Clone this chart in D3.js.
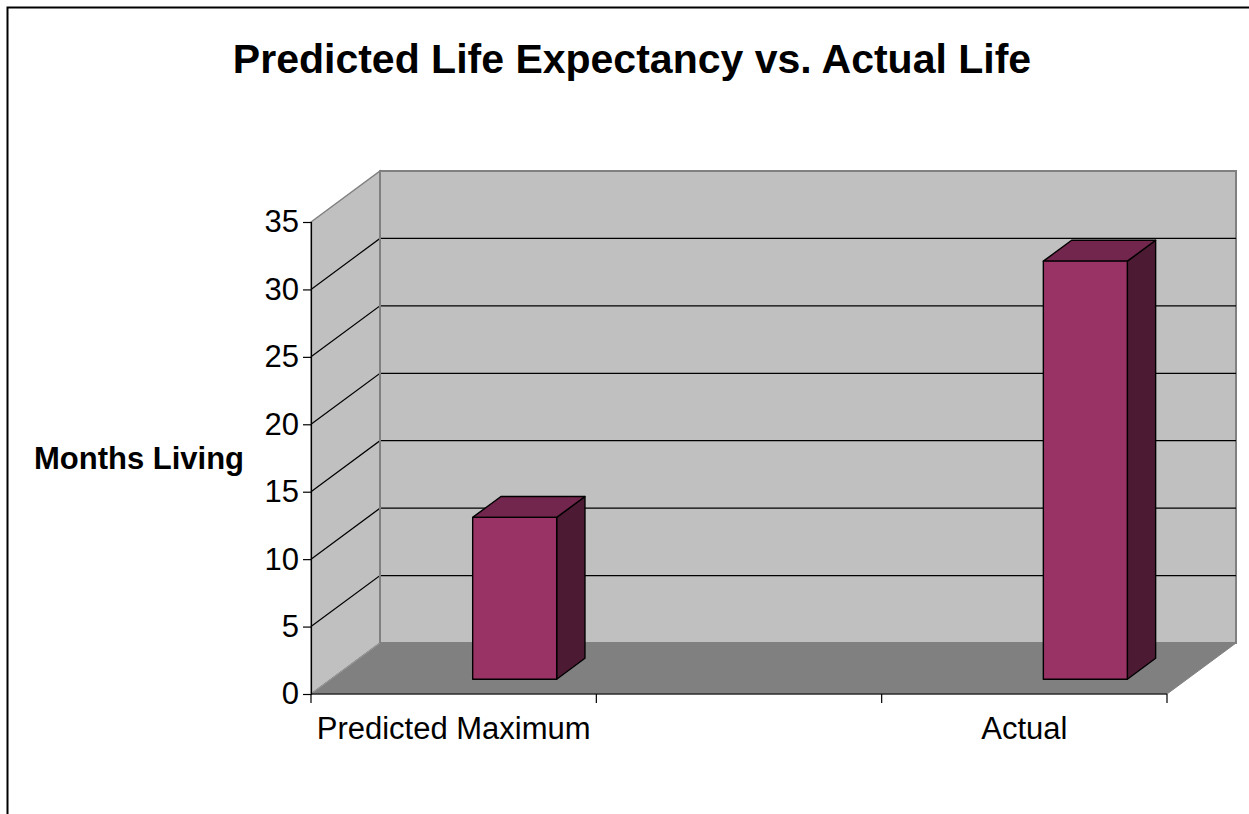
<!DOCTYPE html>
<html><head><meta charset="utf-8">
<script src="https://cdn.jsdelivr.net/npm/d3@7"></script>
<style>html,body{margin:0;padding:0;background:#fff;}svg{display:block;}</style>
</head><body>
<svg id="chart" width="1249" height="814"></svg>
<script>
// ---- data ----
const title = "Predicted Life Expectancy vs. Actual Life";
const yAxisTitle = "Months Living";
const categories = ["Predicted Maximum", "", "Actual"];
const values = [12, null, 31];
const yTicks = [0, 5, 10, 15, 20, 25, 30, 35];

// ---- layout ----
const W = 1249, H = 814;
const font = "'Liberation Sans', Arial, sans-serif";
const x0 = 311, x1 = 1167, yBase = 694, yTop = 222;
const depthX = 69, depthY = 51;
const zFront = 0.29, zBack = 0.70;
const barW = 84, barShift = 41;

const svg = d3.select("#chart");
const x = d3.scaleBand().domain(categories).range([x0, x1]).padding(0);
const y = d3.scaleLinear().domain([0, 35]).range([yBase, yTop]);
const P = (px, py, z) => [px + z * depthX, py - z * depthY];

// frame border
svg.append("rect").attr("x", 7.5).attr("y", 7.5).attr("width", W + 20).attr("height", H + 20)
  .attr("fill", "none").attr("stroke", "#000").attr("stroke-width", 2);

// back wall
const bw = [P(x0, y(35), 1), P(x1, y(35), 1), P(x1, y(0), 1), P(x0, y(0), 1)];
svg.append("polygon").attr("points", bw.join(" ")).attr("fill", "#C0C0C0")
  .attr("stroke", "#808080").attr("stroke-width", 2);
// side wall
const sw = [P(x0, y(35), 0), P(x0, y(35), 1), P(x0, y(0), 1), P(x0, y(0), 0)];
svg.append("polygon").attr("points", sw.join(" ")).attr("fill", "#C0C0C0")
  .attr("stroke", "#808080").attr("stroke-width", 1.5);
// floor
const fl = [P(x0, y(0), 0), P(x1, y(0), 0), P(x1, y(0), 1), P(x0, y(0), 1)];
svg.append("polygon").attr("points", fl.join(" ")).attr("fill", "#808080")
  .attr("stroke", "#808080").attr("stroke-width", 1);
// floor/side wall seam
svg.append("line").attr("x1", P(x0, y(0), 0)[0]).attr("y1", P(x0, y(0), 0)[1])
  .attr("x2", P(x0, y(0), 1)[0]).attr("y2", P(x0, y(0), 1)[1]).attr("stroke", "#9a9a9a");

// gridlines (side + back)
const grid = yTicks.filter(t => t > 0 && t < 35);
const g = svg.append("g");
grid.forEach(t => {
  const a = P(x0, y(t), 0), b = P(x0, y(t), 1), c = P(x1, y(t), 1);
  g.append("polyline").attr("points", [a, b, c].join(" ")).attr("fill", "none")
    .attr("stroke", "#000").attr("stroke-width", 1.2);
});
// back wall vertical edge at corner
svg.append("line").attr("x1", P(x0, 0, 1)[0]).attr("x2", P(x0, 0, 1)[0])
  .attr("y1", P(x0, y(35), 1)[1]).attr("y2", P(x0, y(0), 1)[1])
  .attr("stroke", "#808080").attr("stroke-width", 2);

// bars
const bars = svg.append("g");
categories.forEach((c, i) => {
  const v = values[i];
  if (v == null) return;
  const cx = x(c) + x.bandwidth() / 2 + barShift;
  const L = cx - barW / 2, R = cx + barW / 2;
  const yt = y(v), yb = y(0);
  const fTL = P(L, yt, zFront), fTR = P(R, yt, zFront), fBR = P(R, yb, zFront), fBL = P(L, yb, zFront);
  const bTL = P(L, yt, zBack), bTR = P(R, yt, zBack), bBR = P(R, yb, zBack);
  const st = {stroke: "#000", "stroke-width": 1.4, "stroke-linejoin": "round"};
  const add = (pts, fill) => {
    const p = bars.append("polygon").attr("points", pts.join(" ")).attr("fill", fill);
    Object.entries(st).forEach(([k, val]) => p.attr(k, val));
  };
  add([fTR, bTR, bBR, fBR], "#4D1A33");
  add([fTL, bTL, bTR, fTR], "#73264D");
  add([fTL, fTR, fBR, fBL], "#993366");
});

// y axis
const yAxis = d3.axisLeft(y).tickValues(yTicks).tickSize(8).tickPadding(4).tickFormat(d3.format("d"));
const ya = svg.append("g").attr("transform", `translate(${x0},0)`).call(yAxis);
ya.select(".domain").attr("stroke", "#000").attr("stroke-width", 1.2);
ya.selectAll(".tick line").attr("stroke", "#000").attr("stroke-width", 1.2);
ya.selectAll(".tick text").attr("font-family", font).attr("font-size", 31).attr("fill", "#000");

// x axis
const ticksX = [x0].concat(categories.map(c => x(c) + x.bandwidth()));
svg.append("line").attr("x1", x0).attr("x2", x1).attr("y1", yBase).attr("y2", yBase)
  .attr("stroke", "#000").attr("stroke-width", 1.2);
svg.append("g").selectAll("line").data(ticksX).join("line")
  .attr("x1", d => d).attr("x2", d => d).attr("y1", yBase).attr("y2", yBase + 9)
  .attr("stroke", "#000").attr("stroke-width", 1.2);
svg.append("g").selectAll("text").data(categories).join("text")
  .attr("x", d => x(d) + x.bandwidth() / 2).attr("y", 739)
  .attr("text-anchor", "middle").attr("font-family", font).attr("font-size", 31)
  .attr("fill", "#000").text(d => d);

// titles
svg.append("text").attr("x", 632).attr("y", 73).attr("text-anchor", "middle")
  .attr("font-family", font).attr("font-size", 41).attr("font-weight", "bold").text(title);
svg.append("text").attr("x", 139).attr("y", 469).attr("text-anchor", "middle")
  .attr("font-family", font).attr("font-size", 31).attr("font-weight", "bold").text(yAxisTitle);
</script>
</body></html>
